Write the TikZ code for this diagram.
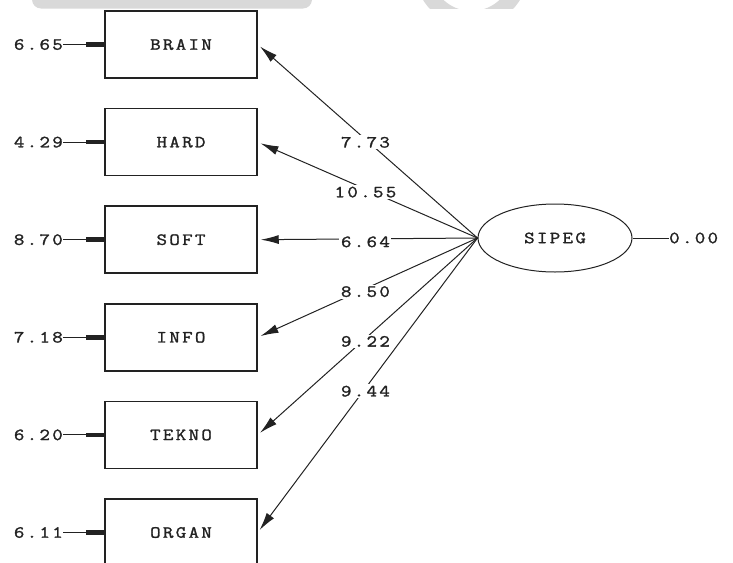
\documentclass[tikz,border=0pt]{standalone}
\usepackage{fontspec}
\usetikzlibrary{arrows.meta,shapes.geometric}
\definecolor{wm}{HTML}{D9D9D9}
\definecolor{ink}{HTML}{222222}
\newfontfamily\lisface[LetterSpace=13.5, FakeBold=1.6, FakeStretch=1.2]{Latin Modern Mono}
\newcommand\lisfont{\lisface\fontsize{17}{20}\selectfont}
\tikzset{
  every node/.style={font=\lisfont, text=ink},
  varbox/.style={draw=ink, line width=1.5pt, minimum width=152pt, minimum height=67pt, inner sep=0pt},
  latent/.style={ellipse, draw=ink, line width=1pt, minimum width=154pt, minimum height=68pt, inner sep=0pt},
  errlabel/.style={anchor=east, inner sep=0pt},
  errarrow/.style={draw=ink, line width=1pt, -{Rectangle[length=18pt,width=4.5pt]}},
  loading/.style={draw=ink, line width=1pt, -{Latex[length=18pt,width=9pt]}, shorten >=3pt},
  est/.style={fill=white, inner sep=1.5pt, pos=0.51, yshift=-3pt}
}
\begin{document}
\begin{tikzpicture}[x=1pt,y=-1pt]
\path[use as bounding box] (0,0) rectangle (733,562);
\clip (0,0) rectangle (733,562);
% watermark remnants
\fill[wm, rounded corners=9pt] (32,-12) rectangle (312,8.5);
\begin{scope}
  \clip (380,0) rectangle (560,8.5);
  \fill[wm, even odd rule] (471.5,-30) circle (57pt) (471.5,-30) circle (41pt);
\end{scope}
% observed variables
\node[varbox] (brain) at (181,44.5) {BRAIN};
\node[varbox] (hard)  at (181,142.1) {HARD};
\node[varbox] (soft)  at (181,239.7) {SOFT};
\node[varbox] (info)  at (181,337.3) {INFO};
\node[varbox] (tekno) at (181,434.9) {TEKNO};
\node[varbox] (organ) at (181,532.5) {ORGAN};
% latent variable
\node[latent] (sipeg) at (555,238) {SIPEG};
% error variances
\node[errlabel] (e1) at (63,44.5) {6.65};
\node[errlabel] (e2) at (63,142.1) {4.29};
\node[errlabel] (e3) at (63,239.7) {8.70};
\node[errlabel] (e4) at (63,337.3) {7.18};
\node[errlabel] (e5) at (63,434.9) {6.20};
\node[errlabel] (e6) at (63,532.5) {6.11};
\draw[errarrow] (e1.east) -- (brain.west);
\draw[errarrow] (e2.east) -- (hard.west);
\draw[errarrow] (e3.east) -- (soft.west);
\draw[errarrow] (e4.east) -- (info.west);
\draw[errarrow] (e5.east) -- (tekno.west);
\draw[errarrow] (e6.east) -- (organ.west);
% latent variance
\node[anchor=west, inner sep=0pt] (v0) at (669,238) {0.00};
\draw[draw=ink, line width=1pt] (sipeg.east) -- (v0.west);
% loadings
\draw[loading] (sipeg.west) -- (brain.east) node[est] {7.73};
\draw[loading] (sipeg.west) -- (hard.east)  node[est] {10.55};
\draw[loading] (sipeg.west) -- (soft.east)  node[est] {6.64};
\draw[loading] (sipeg.west) -- (info.east)  node[est] {8.50};
\draw[loading] (sipeg.west) -- (tekno.east) node[est] {9.22};
\draw[loading] (sipeg.west) -- (organ.east) node[est] {9.44};
\end{tikzpicture}
\end{document}
